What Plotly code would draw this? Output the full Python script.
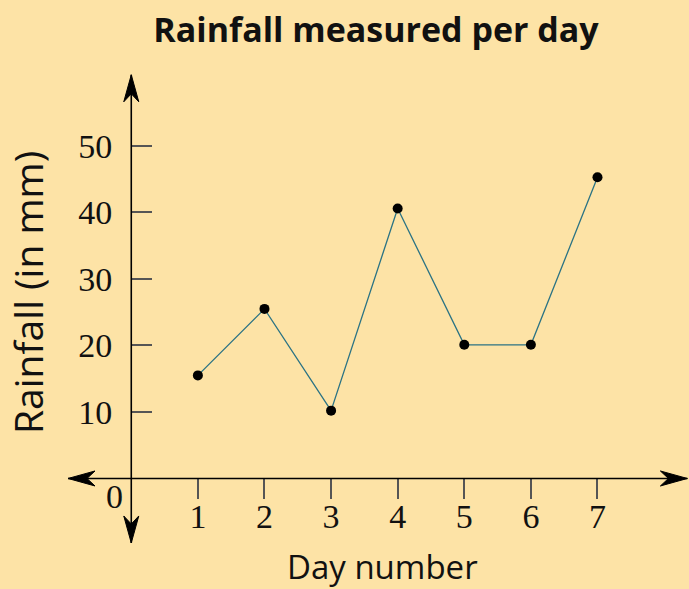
import plotly.graph_objects as go

# data
days = [1, 2, 3, 4, 5, 6, 7]
rainfall = [15.5, 25.5, 10.2, 40.6, 20.1, 20.1, 45.3]
y_ticks = [10, 20, 30, 40, 50]

W, H = 689, 589
bg = '#FDE3A6'

# axis ranges chosen so the plot area fills the page
x_rng = [-1.971, 8.374]
y_rng = [-16.62, 71.95]
sx = W / (x_rng[1] - x_rng[0])   # px per day
sy = H / (y_rng[1] - y_rng[0])   # px per mm

# where the arrow tips of the two axes sit
x_left, x_right = -0.95, 8.35
y_bottom, y_top = -9.7, 60.7


def arrow_path(tx, ty, dx, dy, length=27, half=7.5, notch=19):
    # barbed arrowhead pointing along (dx, dy), sizes in px
    px, py = -dy, dx
    def pt(along, side):
        return (tx + (dx * along + px * side) / sx, ty + (dy * along + py * side) / sy)
    p = [pt(0, 0), pt(-length, -half), pt(-notch, 0), pt(-length, half)]
    return 'M ' + ' L '.join('{:.4f},{:.4f}'.format(a, b) for a, b in p) + ' Z'


fig = go.Figure()
fig.add_trace(go.Scatter(x=days, y=rainfall, mode='lines+markers',
                         line=dict(color='#2b7384', width=1.3),
                         marker=dict(color='black', size=10),
                         cliponaxis=False, showlegend=False))

shapes = [
    dict(type='line', x0=x_left, x1=x_right, y0=0, y1=0, line=dict(color='black', width=1.6)),
    dict(type='line', x0=0, x1=0, y0=y_bottom, y1=y_top, line=dict(color='black', width=1.6)),
]
for tx, ty, dx, dy in [(x_right, 0, 1, 0), (x_left, 0, -1, 0), (0, y_top, 0, 1), (0, y_bottom, 0, -1)]:
    shapes.append(dict(type='path', path=arrow_path(tx, ty, dx, dy),
                       fillcolor='black', line=dict(color='black', width=1)))

tick_font = dict(family='Liberation Serif', size=34, color='#111')

fig.update_layout(
    width=W, height=H,
    margin=dict(l=0, r=0, t=0, b=0),
    paper_bgcolor=bg, plot_bgcolor=bg,
    shapes=shapes,
    title=dict(text='<b>Rainfall measured per day</b>', x=376 / W, xanchor='center',
               y=1 - 30 / H, yanchor='middle',
               font=dict(family='Open Sans', size=34, color='#111')),
    xaxis=dict(range=x_rng, tickvals=days, ticks='outside', ticklen=20, tickwidth=1.5,
               tickcolor='#555', showgrid=False, zeroline=False, showline=False,
               anchor='free', position=(0 - y_rng[0]) / (y_rng[1] - y_rng[0]),
               tickfont=tick_font, ticklabelstandoff=-12, fixedrange=True),
    yaxis=dict(range=y_rng, tickvals=y_ticks, ticks='inside', ticklen=20, tickwidth=1.5,
               tickcolor='#555', showgrid=False, zeroline=False, showline=False,
               anchor='free', position=(0 - x_rng[0]) / (x_rng[1] - x_rng[0]),
               tickfont=tick_font, ticklabelstandoff=19, fixedrange=True),
    annotations=[
        dict(text='0', x=0, y=0, xref='x', yref='y', xanchor='right', yanchor='top',
             xshift=-6, yshift=2, showarrow=False, font=tick_font),
        dict(text='Day number', x=382 / W, y=1 - 566 / H, xref='paper', yref='paper',
             xanchor='center', yanchor='middle', showarrow=False,
             font=dict(family='Open Sans', size=33, color='#111')),
        dict(text='Rainfall (in mm)', x=28 / W, y=1 - 293 / H, xref='paper', yref='paper',
             xanchor='center', yanchor='middle', textangle=-90, showarrow=False,
             font=dict(family='Open Sans', size=39, color='#111')),
    ],
)

fig.write_html('out.html', config={'displayModeBar': False},
               post_script="document.body.style.margin='0';")
